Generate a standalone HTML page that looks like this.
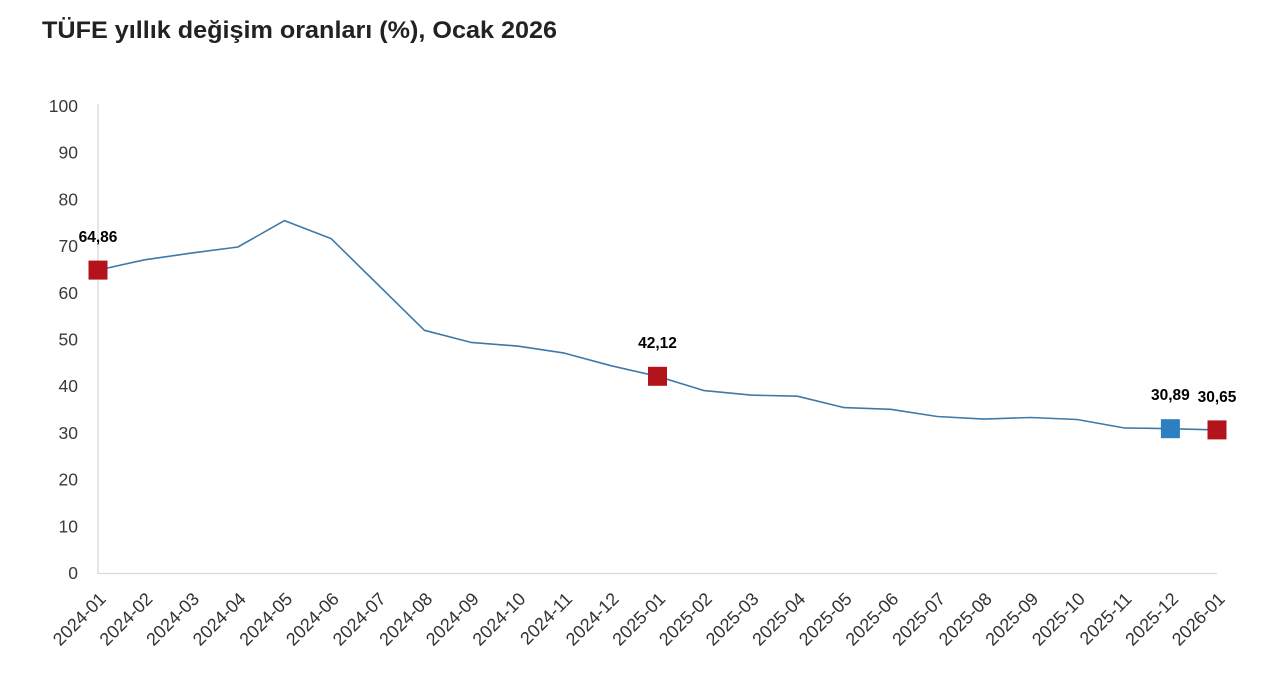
<!DOCTYPE html>
<html><head><meta charset="utf-8"><style>
html,body{margin:0;padding:0;background:#fff;}
svg{display:block;font-family:"Liberation Sans",Arial,sans-serif;}
</style></head><body>
<svg width="1280" height="675" viewBox="0 0 1280 675" xmlns="http://www.w3.org/2000/svg">
<rect width="1280" height="675" fill="#fff"/>
<text x="42" y="38" font-size="24.5" font-weight="bold" fill="#222" textLength="515" lengthAdjust="spacingAndGlyphs">TÜFE yıllık değişim oranları (%), Ocak 2026</text>
<line x1="98" y1="104" x2="98" y2="574" stroke="#d9d9d9" stroke-width="1.3"/>
<line x1="98" y1="573.5" x2="1217" y2="573.5" stroke="#d9d9d9" stroke-width="1.3"/>
<g font-size="17.5" fill="#3a3a3a" text-anchor="end" dominant-baseline="central">
<text x="78" y="106">100</text>
<text x="78" y="152.7">90</text>
<text x="78" y="199.4">80</text>
<text x="78" y="246.1">70</text>
<text x="78" y="292.8">60</text>
<text x="78" y="339.5">50</text>
<text x="78" y="386.2">40</text>
<text x="78" y="432.9">30</text>
<text x="78" y="479.6">20</text>
<text x="78" y="526.3">10</text>
<text x="78" y="573">0</text>
</g>
<polyline fill="none" stroke="#3f79a8" stroke-width="1.6" stroke-linejoin="round" points="98,270.1 144.6,259.8 191.3,253.1 237.9,247.0 284.5,220.6 331.1,238.6 377.8,284.5 424.4,330.3 471.0,342.4 517.6,346.1 564.3,353.1 610.9,365.7 657.5,376.3 704.1,390.6 750.8,395.1 797.4,396.2 844.0,407.6 890.6,409.3 937.3,416.5 983.9,419.1 1030.5,417.5 1077.1,419.5 1123.8,427.9 1170.4,428.7 1217.0,429.9"/>
<rect x="88.5" y="260.6" width="19" height="19" fill="#b3141c"/>
<rect x="648" y="366.8" width="19" height="19" fill="#b3141c"/>
<rect x="1160.9" y="419.2" width="19" height="19" fill="#2e7fc0"/>
<rect x="1207.5" y="420.4" width="19" height="19" fill="#b3141c"/>
<g font-size="15.5" font-weight="bold" fill="#000" text-anchor="middle">
<text x="98" y="242">64,86</text>
<text x="657.5" y="348">42,12</text>
<text x="1170.4" y="400">30,89</text>
<text x="1217" y="402">30,65</text>
</g>
<g font-size="18" fill="#333" text-anchor="end">
<text transform="translate(107,600) rotate(-45)">2024-01</text>
<text transform="translate(153.6,600) rotate(-45)">2024-02</text>
<text transform="translate(200.3,600) rotate(-45)">2024-03</text>
<text transform="translate(246.9,600) rotate(-45)">2024-04</text>
<text transform="translate(293.5,600) rotate(-45)">2024-05</text>
<text transform="translate(340.1,600) rotate(-45)">2024-06</text>
<text transform="translate(386.8,600) rotate(-45)">2024-07</text>
<text transform="translate(433.4,600) rotate(-45)">2024-08</text>
<text transform="translate(480.0,600) rotate(-45)">2024-09</text>
<text transform="translate(526.6,600) rotate(-45)">2024-10</text>
<text transform="translate(573.3,600) rotate(-45)">2024-11</text>
<text transform="translate(619.9,600) rotate(-45)">2024-12</text>
<text transform="translate(666.5,600) rotate(-45)">2025-01</text>
<text transform="translate(713.1,600) rotate(-45)">2025-02</text>
<text transform="translate(759.8,600) rotate(-45)">2025-03</text>
<text transform="translate(806.4,600) rotate(-45)">2025-04</text>
<text transform="translate(853.0,600) rotate(-45)">2025-05</text>
<text transform="translate(899.6,600) rotate(-45)">2025-06</text>
<text transform="translate(946.3,600) rotate(-45)">2025-07</text>
<text transform="translate(992.9,600) rotate(-45)">2025-08</text>
<text transform="translate(1039.5,600) rotate(-45)">2025-09</text>
<text transform="translate(1086.1,600) rotate(-45)">2025-10</text>
<text transform="translate(1132.8,600) rotate(-45)">2025-11</text>
<text transform="translate(1179.4,600) rotate(-45)">2025-12</text>
<text transform="translate(1226,600) rotate(-45)">2026-01</text>
</g>
</svg>
</body></html>
